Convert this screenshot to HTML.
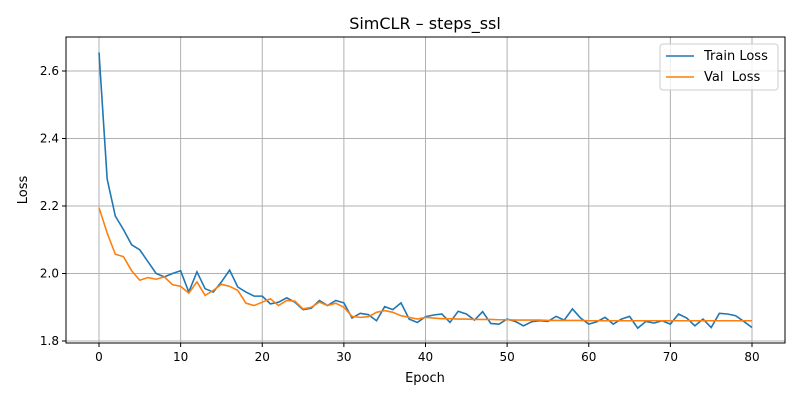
<!DOCTYPE html>
<html><head><meta charset="utf-8"><style>
body{margin:0;background:#fff;font-family:"Liberation Sans","DejaVu Sans",sans-serif}
svg text{font-family:"DejaVu Sans","Liberation Sans",sans-serif}
</style></head><body>
<svg id="chart" width="800" height="400" xmlns="http://www.w3.org/2000/svg"></svg>
<script>
const trainLoss=[2.655,2.28,2.17,2.13,2.085,2.07,2.035,2.0,1.99,2.0,2.008,1.945,2.005,1.955,1.945,1.975,2.01,1.96,1.945,1.933,1.933,1.91,1.915,1.928,1.915,1.893,1.897,1.92,1.905,1.92,1.913,1.868,1.882,1.878,1.86,1.902,1.893,1.913,1.865,1.855,1.872,1.877,1.88,1.855,1.888,1.88,1.862,1.887,1.852,1.85,1.865,1.858,1.845,1.857,1.86,1.858,1.873,1.862,1.895,1.868,1.85,1.857,1.87,1.85,1.865,1.873,1.838,1.858,1.853,1.86,1.85,1.88,1.868,1.845,1.865,1.84,1.882,1.88,1.875,1.858,1.84];
const valLoss=[2.195,2.12,2.057,2.05,2.008,1.98,1.988,1.983,1.99,1.967,1.962,1.942,1.975,1.935,1.95,1.968,1.962,1.95,1.912,1.905,1.915,1.925,1.905,1.92,1.918,1.895,1.9,1.915,1.905,1.912,1.9,1.873,1.87,1.872,1.885,1.89,1.885,1.875,1.87,1.865,1.87,1.868,1.866,1.866,1.865,1.865,1.864,1.864,1.864,1.863,1.863,1.862,1.862,1.862,1.862,1.861,1.861,1.861,1.861,1.861,1.86,1.86,1.86,1.86,1.86,1.86,1.86,1.86,1.86,1.86,1.86,1.86,1.86,1.86,1.86,1.86,1.86,1.86,1.86,1.86,1.86];
const xTicks=[0,10,20,30,40,50,60,70,80];
const yTicks=[1.8,2.0,2.2,2.4,2.6];
const NS="http://www.w3.org/2000/svg";
const svg=document.getElementById('chart');
const L=66,R=785,T=37,B=343;
const xs=v=>99+(v)*(752-99)/80;
const ys=v=>71+(2.6-v)*337.5;
function mk(tag,attrs,parent){const e=document.createElementNS(NS,tag);for(const k in attrs)e.setAttribute(k,attrs[k]);(parent||svg).appendChild(e);return e;}
const grid=mk('g',{});


xTicks.forEach(t=>{mk('line',{x1:xs(t),x2:xs(t),y1:T,y2:B,stroke:'#b0b0b0','stroke-width':1},grid);
 mk('line',{x1:xs(t),x2:xs(t),y1:B,y2:B+4,stroke:'#000'});
 const tx=mk('text',{x:xs(t),y:B+18,'text-anchor':'middle','font-size':12});tx.textContent=t;
 
 });
yTicks.forEach(t=>{mk('line',{x1:L,x2:R,y1:ys(t),y2:ys(t),stroke:'#b0b0b0','stroke-width':1},grid);
 mk('line',{x1:L-4,x2:L,y1:ys(t),y2:ys(t),stroke:'#000'});
 const tx=mk('text',{x:L-7,y:ys(t)+4,'text-anchor':'end','font-size':12});tx.textContent=t.toFixed(1);
 
 });
function line(data,color,name){const p=mk('polyline',{points:data.map((v,i)=>xs(i)+','+ys(v)).join(' '),fill:'none',stroke:color,'stroke-width':1.6});
 
 }
line(trainLoss,'#1f77b4','train-loss-line');
line(valLoss,'#ff7f0e','val-loss-line');
mk('rect',{x:L,y:T,width:R-L,height:B-T,fill:'none',stroke:'#000','stroke-width':1});
const title=mk('text',{x:425,y:29,'text-anchor':'middle','font-size':16});title.textContent='SimCLR – steps_ssl';


const xl=mk('text',{x:425,y:382,'text-anchor':'middle','font-size':13});xl.textContent='Epoch';


const yl=mk('text',{x:27,y:190,'text-anchor':'middle','font-size':13,transform:'rotate(-90 27 190)'});yl.textContent='Loss';


const lg=mk('g',{});


mk('rect',{x:660,y:44,width:118,height:46,rx:3,fill:'#fff','fill-opacity':0.8,stroke:'#ccc'},lg);
[['Train Loss','#1f77b4',60],['Val  Loss','#ff7f0e',81]].forEach(([n,c,y])=>{
 mk('line',{x1:666,x2:694,y1:y-4,y2:y-4,stroke:c,'stroke-width':1.6},lg);
 const t=mk('text',{x:704,y:y,'font-size':13,'xml:space':'preserve'},lg);t.textContent=n;t.style.whiteSpace='pre';
 
 });
</script>
</body></html>
